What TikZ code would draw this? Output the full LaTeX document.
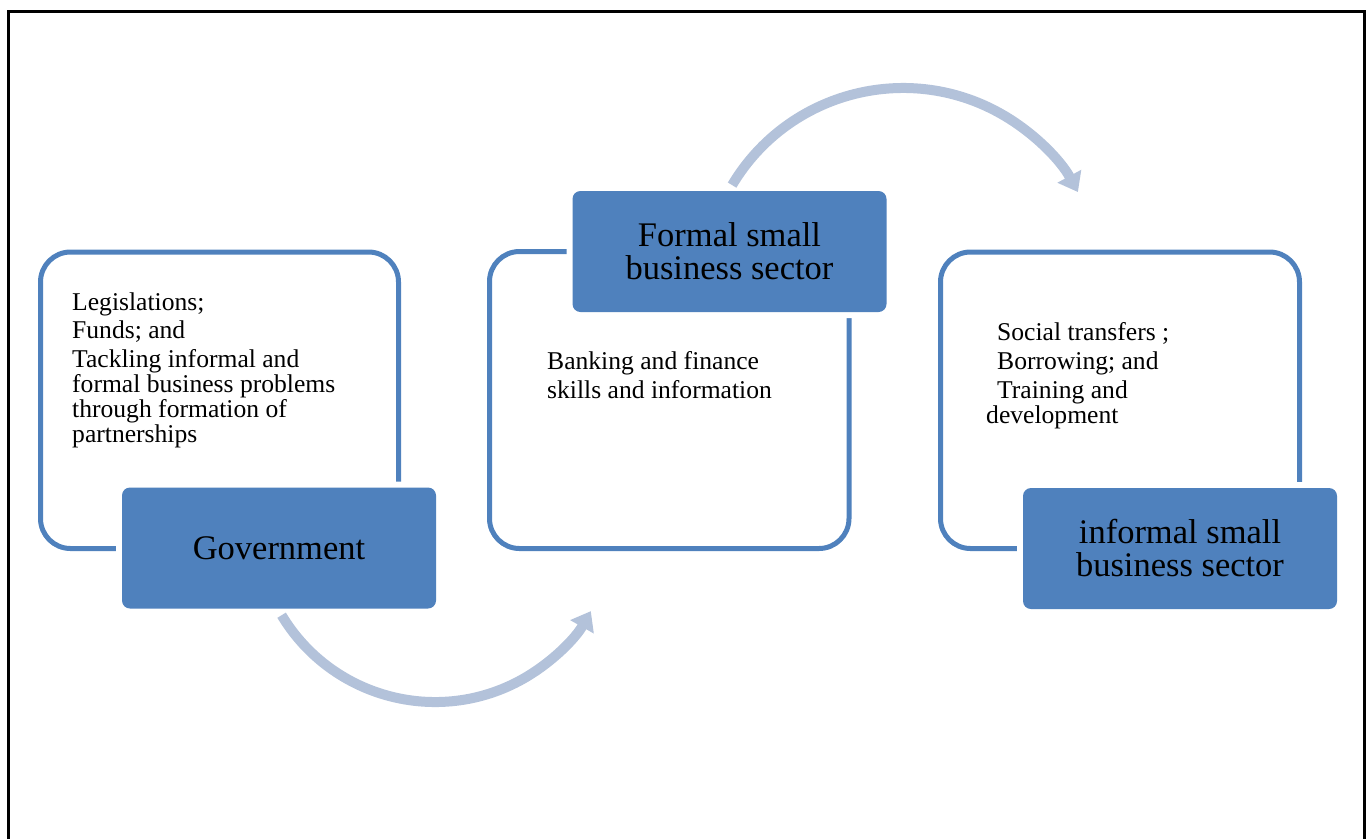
\documentclass[tikz,border=0pt]{standalone}
\usepackage{fontspec}
\setmainfont{Liberation Serif}
\usetikzlibrary{arrows.meta}
\definecolor{accent}{HTML}{4F81BD}
\definecolor{flowc}{HTML}{B3C2DA}
\begin{document}
\begin{tikzpicture}[x=1pt,y=-1pt,
  outline/.style={draw=accent, line width=5pt, rounded corners=30pt},
  titlebox/.style={fill=accent, rounded corners=8pt, inner sep=0pt,
    minimum width=314pt, minimum height=121pt, align=center,
    font=\fontsize{34.5}{33}\selectfont,
    preaction={draw=white, line width=12pt}},
  bodytext/.style={anchor=base west, inner sep=0pt, align=left,
    font=\fontsize{25.6}{25}\selectfont},
  flow/.style={draw=flowc, line width=10pt, -{Triangle[length=18pt,width=26pt]}},
  frame/.style={draw=black, line width=3pt}]
\useasboundingbox (0,0) rectangle (1368,839);
\draw[frame] (8.5,839) -- (8.5,11.5) -- (1364.5,11.5) -- (1364.5,839);

% outline boxes
\draw[outline] (40.5,252) rectangle (398.5,548.5);
\draw[outline] (489.5,251.5) rectangle (849,548.5);
\draw[outline] (940.5,252) rectangle (1299.5,548.5);

% title boxes
\node[titlebox] (gov) at (279,548) {Government};
\node[titlebox] (formal) at (729.5,251.5) {Formal small\\business sector};
\node[titlebox] (informal) at (1180,548.5) {informal small\\business sector};

% body texts (base anchor = baseline of the last line)
\node[bodytext] (govtext) at (72,442) {Legislations;\\[3pt]Funds; and\\[4pt]Tackling informal and\\formal business problems\\through formation of\\partnerships};
\node[bodytext] (formaltext) at (547,398) {Banking and finance\\[4pt]skills and information};
\node[bodytext] (informaltext) at (986,423) {\hspace*{11pt}Social transfers ;\\[4pt]\hspace*{11pt}Borrowing; and\\[4pt]\hspace*{11pt}Training and\\development};

% flow arrows
\coordinate (f1) at (281.6,615.2);
\coordinate (f2) at (732.1,185.1);
\draw[flow] (f1) arc[start angle=149, end angle=29.5, radius=179];
\draw[flow] (f2) arc[start angle=210.8, end angle=331.5, radius=199];
\end{tikzpicture}
\end{document}
